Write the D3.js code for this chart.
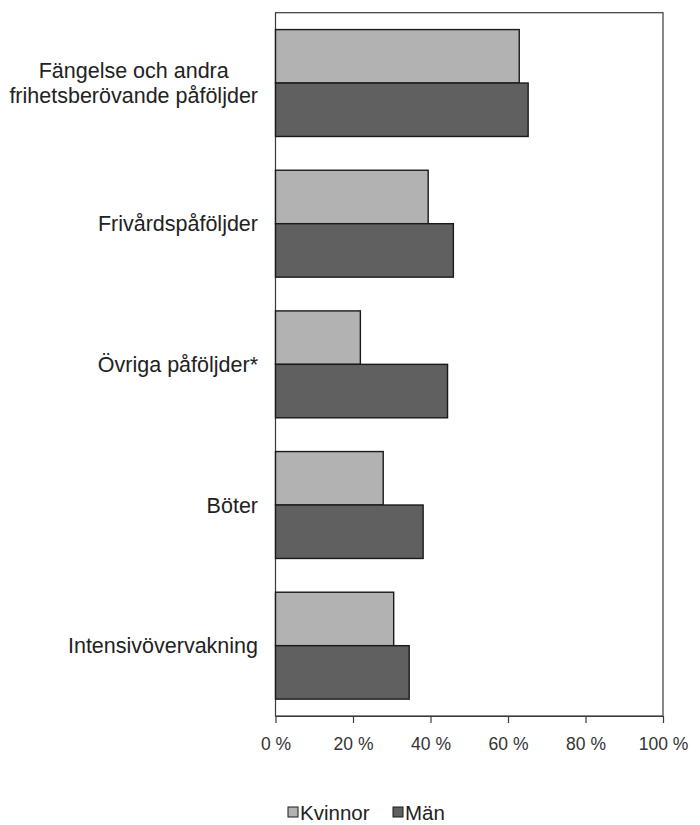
<!DOCTYPE html>
<html><head><meta charset="utf-8">
<script src="https://cdn.jsdelivr.net/npm/d3@7"></script>
<style>body{margin:0;background:#fff;} svg{display:block;}</style>
</head><body>
<svg id="chart" width="700" height="825"></svg>
<script>
const categories = [
  ["Fängelse och andra", "frihetsberövande påföljder"],
  ["Frivårdspåföljder"],
  ["Övriga påföljder*"],
  ["Böter"],
  ["Intensivövervakning"]
];
const seriesNames = ["Kvinnor", "Män"];
const kvinnor = [62.9, 39.4, 21.9, 27.8, 30.5];
const man = [65.2, 45.9, 44.4, 38.1, 34.5];
const tickValues = [0, 20, 40, 60, 80, 100];
const colors = ["#b2b2b2", "#606060"];

const svg = d3.select("#chart");
const font = "'Liberation Sans', Arial, sans-serif";
const m = {left: 275.5, right: 663, top: 12.7, bottom: 716};

const x = d3.scaleLinear().domain([0, 100]).range([m.left, m.right]);
const y = d3.scaleBand().domain(d3.range(categories.length)).range([m.top, m.bottom])
  .paddingInner(0.24).paddingOuter(0.12);
const ySub = d3.scaleBand().domain(seriesNames).range([0, y.bandwidth()]);

const data = [kvinnor, man];

// plot frame
svg.append("rect").attr("x", m.left).attr("y", m.top)
  .attr("width", m.right - m.left).attr("height", m.bottom - m.top)
  .attr("fill", "none").attr("stroke", "#3a3a3a").attr("stroke-width", 1.2);

// bars
seriesNames.forEach((s, si) => {
  svg.append("g").selectAll("rect").data(data[si]).join("rect")
    .attr("x", x(0))
    .attr("y", (d, i) => y(i) + ySub(s))
    .attr("width", d => x(d) - x(0))
    .attr("height", ySub.bandwidth())
    .attr("fill", colors[si])
    .attr("stroke", "#1a1a1a").attr("stroke-width", 1.4);
});

// bottom axis
const xAxis = d3.axisBottom(x).tickValues(tickValues).tickSize(7).tickSizeOuter(0)
  .tickFormat(d => d + " %");
const gx = svg.append("g").attr("transform", `translate(0,${m.bottom})`).call(xAxis);
gx.select(".domain").attr("stroke", "#3a3a3a").attr("stroke-width", 1.2);
gx.selectAll(".tick line").attr("stroke", "#3a3a3a").attr("stroke-width", 1.2);
gx.selectAll(".tick text").attr("font-family", font).attr("font-size", 17.5)
  .attr("fill", "#333").attr("dy", null).attr("y", 34);

// category labels
const labelRight = 258;
const lineH = 25;
categories.forEach((lines, i) => {
  const cy = y(i) + y.bandwidth() / 2;
  const g = svg.append("g");
  const texts = lines.map((t, li) => g.append("text")
    .attr("font-family", font).attr("font-size", 21.5).attr("fill", "#222")
    .attr("y", cy + 7.5 + (li - (lines.length - 1) / 2) * lineH)
    .text(t));
  const widths = texts.map(tx => tx.node().getComputedTextLength());
  const maxW = d3.max(widths);
  const center = labelRight - maxW / 2;
  texts.forEach(tx => tx.attr("x", center).attr("text-anchor", "middle"));
});

// legend
const legendItems = [{name: "Kvinnor", x: 288}, {name: "Män", x: 393}];
legendItems.forEach((it, i) => {
  svg.append("rect").attr("x", it.x).attr("y", 807).attr("width", 10).attr("height", 10)
    .attr("fill", colors[i]).attr("stroke", "#1a1a1a").attr("stroke-width", 1);
  svg.append("text").attr("x", it.x + 12).attr("y", 819.5)
    .attr("font-family", font).attr("font-size", 20.5).attr("fill", "#222")
    .text(seriesNames[i]);
});
</script>
</body></html>
